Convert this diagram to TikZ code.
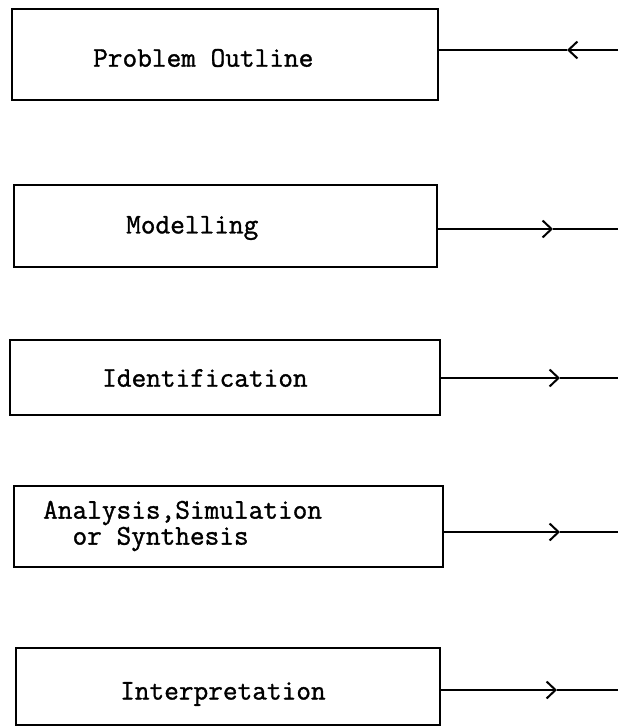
\documentclass[tikz,border=0pt]{standalone}
\usepackage{fontspec}
\newfontfamily\typewr[FakeBold=1.2]{Latin Modern Mono}
\usetikzlibrary{arrows.meta}
\tikzset{
  x=1pt, y=-1pt,
  stage/.style={draw, line width=2.1pt, rectangle, outer sep=0pt, inner sep=0pt},
  lbl/.style={anchor=west, inner sep=0pt, align=left, font=\typewr\fontsize{28.5}{26}\selectfont},
  wire/.style={line width=2pt},
  barb/.style={wire, -{Straight Barb[length=9pt,width=17pt]}}
}
\begin{document}
\begin{tikzpicture}
\useasboundingbox (0,0) rectangle (618,727);
% boxes
\node[stage, minimum width=426pt, minimum height=91pt] (b1) at (225,54.5) {};
\node[stage, minimum width=423pt, minimum height=82pt] (b2) at (225.5,226) {};
\node[stage, minimum width=430pt, minimum height=75pt] (b3) at (225,377.5) {};
\node[stage, minimum width=429pt, minimum height=81pt] (b4) at (228.5,526.5) {};
\node[stage, minimum width=424pt, minimum height=77pt] (b5) at (228,686.5) {};
% labels
\node[lbl] (l1) at (93,58) {Problem Outline};
\node[lbl] (l2) at (126,228) {Modelling};
\node[lbl] (l3) at (102,378) {Identification};
\node[lbl] (l4) at (43,526) {Analysis,Simulation\\\hphantom{An}or Synthesis};
\node[lbl] (l5) at (120,694) {Interpretation};
% connector ends and arrow tips
\coordinate (e1) at (618,50);  \coordinate (t1) at (567,50);
\coordinate (e2) at (618,229); \coordinate (t2) at (553,229);
\coordinate (e3) at (618,378); \coordinate (t3) at (560,378);
\coordinate (e4) at (618,532); \coordinate (t4) at (560,532);
\coordinate (e5) at (618,690); \coordinate (t5) at (557,690);
% connectors
\draw[barb] (e1) -- (t1);
\draw[wire] (t1) -- (t1 -| b1.east);
\foreach \i in {2,3,4,5}{
  \draw[barb] (t\i -| b\i.east) -- (t\i);
  \draw[wire] (t\i) -- (e\i);
}
\end{tikzpicture}
\end{document}
